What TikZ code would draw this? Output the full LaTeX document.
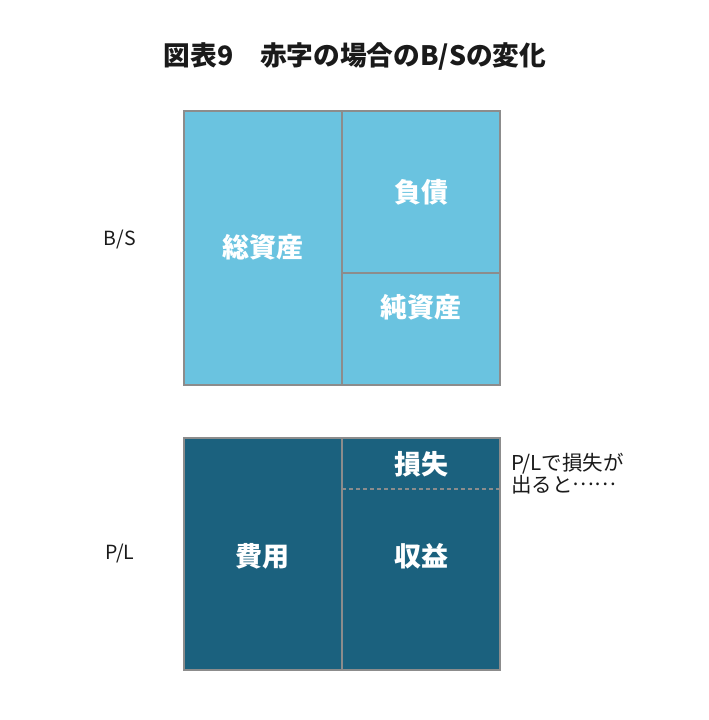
\documentclass[tikz,border=0pt]{standalone}
\usepackage{fontspec}
\setmainfont{Noto Sans CJK JP}
\definecolor{lightb}{HTML}{6AC3E0}
\definecolor{darkb}{HTML}{1B617E}
\definecolor{edge}{HTML}{8C8C8C}
\definecolor{ink}{HTML}{1A1A1A}
\begin{document}
\begin{tikzpicture}[x=1pt,y=-1pt,
  cell/.style={draw=edge, line width=2pt, inner sep=0pt, text=white,
    font=\fontsize{27}{32}\selectfont\bfseries},
  lbl/.style={inner sep=0pt, text=ink, font=\fontsize{19.5}{24}\selectfont},
  note/.style={inner sep=0pt, text=ink, anchor=west, align=left,
    font=\fontsize{20.5}{22.5}\selectfont},
  ttl/.style={inner sep=0pt, text=ink, font=\fontsize{26.7}{32}\selectfont\bfseries}]
\useasboundingbox (0,0) rectangle (709,720);
% B/S
\node[cell, fill=lightb, minimum width=158.5pt, minimum height=274pt] (assets) at (262.75,248) {};
\node[cell, fill=lightb, minimum width=158pt, minimum height=161.5pt] (debt) at (421,191.75) {};
\node[cell, fill=lightb, minimum width=158pt, minimum height=112.5pt] (equity) at (421,328.75) {};
\node[cell, draw=none] (assetsT) at (262.75,247) {総資産};
\node[cell, draw=none] (debtT) at (421,192) {負債};
\node[cell, draw=none] (equityT) at (421,307) {純資産};
% P/L
\node[cell, fill=darkb, minimum width=158.5pt, minimum height=232pt] (cost) at (262.75,553.5) {};
\node[cell, fill=darkb, minimum width=158pt, minimum height=232pt] (rev) at (421,553.5) {};
\coordinate (dl) at (342,489);
\coordinate (dr) at (500,489);
\draw[edge, line width=1.5pt, dash pattern=on 4pt off 3pt] (dl) -- (dr);
\node[cell, draw=none] (lossT) at (421,464) {損失};
\node[cell, draw=none] (costT) at (262.75,556) {費用};
\node[cell, draw=none] (revT) at (421,556) {収益};
% labels
\node[ttl] (title) at (355,57) {図表9　赤字の場合のB/Sの変化};
\node[lbl] (bs) at (120,240) {B/S};
\node[lbl] (pl) at (120,553) {P/L};
\node[note] (note) at (511,473.5) {P/Lで損失が\\出ると\raisebox{0.33em}{……}};
\end{tikzpicture}
\end{document}
